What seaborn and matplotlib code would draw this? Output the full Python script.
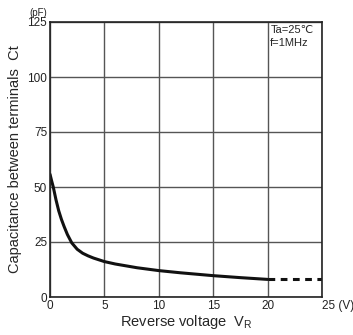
import matplotlib
matplotlib.use("Agg")
import matplotlib.pyplot as plt
import seaborn as sns
import pandas as pd

# values
voltage = [0, 0.15, 0.3, 0.55, 0.8, 1.05, 1.3, 1.6, 2, 2.5, 3, 3.5, 4, 5, 6, 8, 10, 12, 15, 17.5, 20]
capacitance = [55.8, 52.8, 50, 44.2, 39.2, 35.3, 32, 28.4, 24.6, 21.7, 19.9, 18.7, 17.7, 16.1, 15, 13.3, 12, 11, 9.7, 8.8, 8]
extra_voltage = [20, 25]
extra_capacitance = [8, 8]
x_ticks = [0, 5, 10, 15, 20, 25]
y_ticks = [0, 25, 50, 75, 100, 125]

sns.set_style("white")
plt.rcParams["font.family"] = ["Liberation Sans", "DejaVu Sans"]

fig = plt.figure(figsize=(3.53, 3.35), dpi=100)
ax = fig.add_axes([50 / 353, 38 / 335, 272 / 353, 275 / 335])

df = pd.DataFrame({"v": voltage, "c": capacitance})
ext = pd.DataFrame({"v": extra_voltage, "c": extra_capacitance})
sns.lineplot(data=df, x="v", y="c", ax=ax, color="#111111", lw=2.2)
sns.lineplot(data=ext, x="v", y="c", ax=ax, color="#111111", lw=2.2, linestyle=(0, (2.2, 1.8)))

ax.set_xlim(0, 25)
ax.set_ylim(0, 125)
ax.set_xticks(x_ticks)
ax.set_yticks(y_ticks)
ax.set_xticklabels([str(t) for t in x_ticks[:-1]] + ["25 (V)"])
ax.set_yticklabels([str(t) for t in y_ticks])
last = ax.get_xticklabels()[-1]
last.set_horizontalalignment("left")
import matplotlib.transforms as mtransforms
last.set_transform(last.get_transform() + mtransforms.ScaledTranslation(-5 / 100, 0, fig.dpi_scale_trans))
ax.grid(True, color="#555555", lw=1)
for s in ax.spines.values():
    s.set_color("#222222")
    s.set_linewidth(1.2)
ax.tick_params(length=0, labelsize=8.5, pad=2, colors="#222222")

ax.set_xlabel("Reverse voltage  V$_\\mathregular{R}$", fontsize=10.5, labelpad=1)
ax.set_ylabel("Capacitance between terminals  Ct", fontsize=10.5, labelpad=4)
ax.text(-0.3, 127, "(pF)", fontsize=7, ha="right", va="bottom")
ax.text(20.25, 123.5, "Ta=25℃\nf=1MHz", fontsize=8, va="top", linespacing=1.35)

fig.savefig("out.png", dpi=100)
